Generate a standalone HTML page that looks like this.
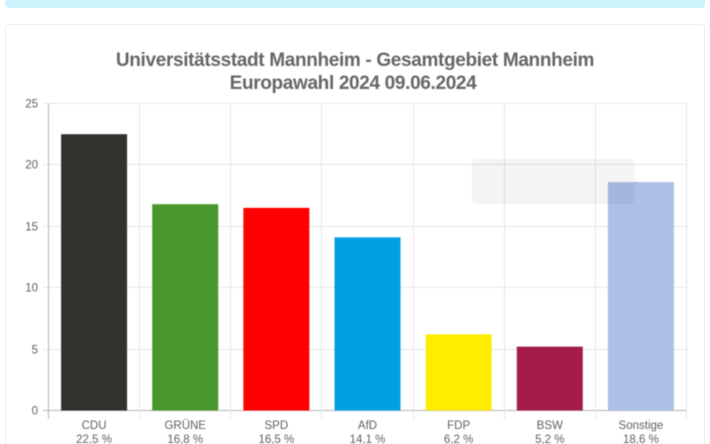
<!DOCTYPE html>
<html lang="de">
<head>
<meta charset="utf-8">
<title>Europawahl 2024 Mannheim</title>
<style>
html,body{margin:0;padding:0;background:#fff;width:710px;height:444px;overflow:hidden;font-family:"Liberation Sans",sans-serif}
#page{position:relative;width:710px;height:444px;overflow:hidden;background:#fff}
#alert{position:absolute;left:5px;top:-10px;width:700px;height:18px;background:#cdf4fd;border-radius:4px}
#card{position:absolute;left:5px;top:24px;width:698px;height:440px;border:1px solid #eee;border-radius:4px;background:#fff;box-sizing:content-box}
#chart{position:absolute;left:0;top:0;filter:blur(0.4px)}
</style>
</head>
<body>
<div id="page">
<div id="alert"></div>
<div id="card"></div>
<svg id="chart" width="710" height="444" viewBox="0 0 710 444" xmlns="http://www.w3.org/2000/svg">
  <g font-family="'Liberation Sans',sans-serif" font-weight="700" font-size="19" fill="#666" text-anchor="middle" letter-spacing="-0.34">
    <text x="355" y="66">Universitätsstadt Mannheim - Gesamtgebiet Mannheim</text>
    <text x="353" y="89">Europawahl 2024 09.06.2024</text>
  </g>
  <g id="grid"></g>
  <g id="bars"></g>
  <g id="axes"></g>
  <g id="labels" font-family="'Liberation Sans',sans-serif" font-size="11.5" fill="#5f5f5f"></g>
  <path d="M476 159H630a4 4 0 0 1 4 4V178l4 4-4 4V200a4 4 0 0 1-4 4H476a4 4 0 0 1-4-4V163a4 4 0 0 1 4-4Z" fill="rgba(0,0,0,0.045)"/>
</svg>
</div>
<script>
const categories = ['CDU', 'GRÜNE', 'SPD', 'AfD', 'FDP', 'BSW', 'Sonstige'];
const seriesValues = [22.5, 16.8, 16.5, 14.1, 6.2, 5.2, 18.6];
const barColors = ['#33312e', '#4a972c', '#ff0000', '#009fe3', '#ffed00', '#a51c4a', '#adbfe6'];
const yTicks = [0, 5, 10, 15, 20, 25];

const NS = 'http://www.w3.org/2000/svg';
const plotLeft = 48.5, plotRight = 686.5, plotTop = 103.5, plotBottom = 410.5, yMax = 25;
const bandWidth = (plotRight - plotLeft) / categories.length;
const barWidth = 66;
const xScale = i => plotLeft + bandWidth * i;
const yScale = v => plotBottom - (v / yMax) * (plotBottom - plotTop);

function add(parent, tag, attrs, text) {
  const el = document.createElementNS(NS, tag);
  for (const k in attrs) el.setAttribute(k, attrs[k]);
  if (text !== undefined) el.textContent = text;
  document.getElementById(parent).appendChild(el);
  return el;
}

yTicks.forEach(t => {
  const y = Math.round(yScale(t) - 0.5) + 0.5;
  const line = add('grid', 'line', {x1: 43, x2: plotRight, y1: y, y2: y, stroke: t === 0 ? '#b4b4b4' : '#e6e6e6'});
  
  
  const lab = add('labels', 'text', {x: 38, y: y + 4, 'text-anchor': 'end', 'font-weight': '400'}, String(t));
  
  
});

categories.forEach((c, i) => {
  const x = Math.round(xScale(i) - 0.5) + 0.5;
  const line = add('grid', 'line', {x1: x, x2: x, y1: plotTop, y2: 419, stroke: i === 0 ? '#b4b4b4' : '#e6e6e6'});
  
  
  const cx = xScale(i) + bandWidth / 2;
  const rect = add('bars', 'rect', {x: cx - barWidth / 2, y: yScale(seriesValues[i]), width: barWidth, height: plotBottom - yScale(seriesValues[i]), fill: barColors[i]});
  
  
  const catLabel = add('labels', 'text', {x: cx, y: 429, 'text-anchor': 'middle'}, c);
  
  
  const valLabel = add('labels', 'text', {x: cx, y: 443, 'text-anchor': 'middle'}, String(seriesValues[i]).replace('.', ',') + ' %');
  
  
});
const lastX = Math.round(plotRight - 0.5) + 0.5;
const lastLine = add('grid', 'line', {x1: lastX, x2: lastX, y1: plotTop, y2: 419, stroke: '#e6e6e6'});


</script>
</body>
</html>
